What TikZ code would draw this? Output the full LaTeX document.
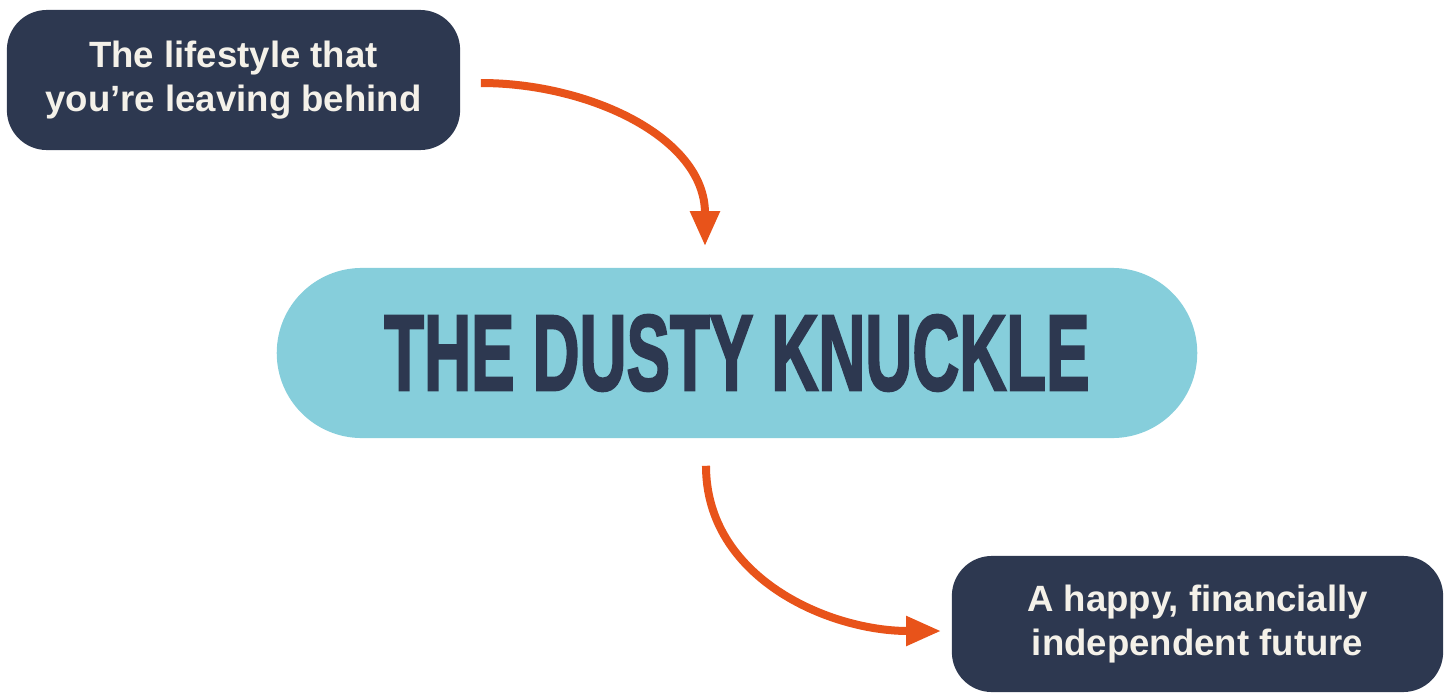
\documentclass[tikz,border=0pt]{standalone}
\usepackage{fontspec}
\setmainfont{Liberation Sans}
\newfontfamily\titlefont[FakeBold=2.5]{Liberation Sans Bold}
\usepackage{tikz}
\usetikzlibrary{arrows.meta, positioning}

\definecolor{navy}{HTML}{2D3850}
\definecolor{sky}{HTML}{86CEDB}
\definecolor{rust}{HTML}{E8531A}
\definecolor{cream}{HTML}{F4F1E9}

\begin{document}
\begin{tikzpicture}[
                x=0.01cm, y=0.01cm,
                box/.style={fill=navy, text=cream, rounded corners=0.4cm, inner sep=0pt, align=center, minimum width=4.53cm, minimum height=1.4cm, font=\fontsize{10.4}{12.6}\selectfont\bfseries},
                pill/.style={fill=sky, text=navy, rounded corners=0.85cm, inner sep=0pt, minimum width=9.2cm, minimum height=1.7cm},
                arrow/.style={-{Triangle[length=0.35cm, width=0.28cm]}, line width=0.08cm, draw=rust, rust}]
            \useasboundingbox (0,0) rectangle (1454,693);

            % Boites
            \node[box] (life) at (233.5,613) {The lifestyle that\\you’re leaving behind};
            \node[pill] (dk) at (737,340) {\resizebox{7.05cm}{0.75cm}{\titlefont THE DUSTY KNUCKLE}};
            \node[box, minimum width=4.91cm, minimum height=1.36cm] (future) at (1197.5,69) {A happy, financially\\independent future};

            % Flèches
            \draw[arrow] ([xshift=0.2cm, yshift=-0.03cm]life.east) to[out=0, in=90] ([xshift=-0.32cm, yshift=0.21cm]dk.north);
            \draw[arrow] ([xshift=-0.31cm, yshift=-0.27cm]dk.south) to[out=-90, in=180] ([xshift=-0.1cm, yshift=-0.07cm]future.west);

        \end{tikzpicture}
\end{document}
